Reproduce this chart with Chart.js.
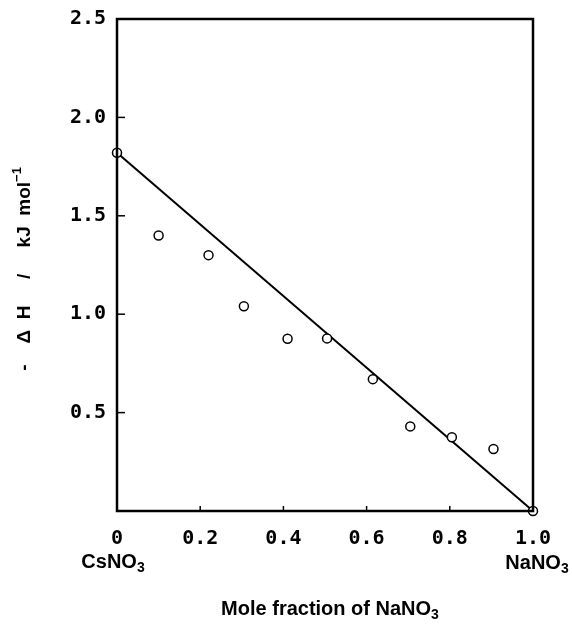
<!DOCTYPE html>
<html>
<head>
<meta charset="utf-8">
<script src="https://cdn.jsdelivr.net/npm/chart.js@4"></script>
<style>
  body { margin: 0; background: #fff; }
  canvas { display: block; }
</style>
</head>
<body>
<canvas id="chart" width="572" height="624"></canvas>
<script>
// mole fraction of NaNO3 and -dH (kJ/mol)
const xFrac = [0, 0.10, 0.22, 0.305, 0.41, 0.505, 0.615, 0.705, 0.805, 0.905, 1.0];
const dH = [1.82, 1.40, 1.30, 1.04, 0.875, 0.877, 0.67, 0.43, 0.375, 0.315, 0.0];
// straight additivity line
const lineX = [0, 1.0];
const lineY = [1.82, 0.0];
const xTicks = [0, 0.2, 0.4, 0.6, 0.8, 1.0];
const yTicks = [0.5, 1.0, 1.5, 2.0, 2.5];

const tickFont = { family: 'DejaVu Sans Mono', weight: 'bold', size: 20 };
const labelFont = '"Liberation Sans", Arial, sans-serif';

function textWithSub(ctx, main, sub, x, y, size) {
  // main text + subscript, centred on x
  ctx.font = `bold ${size}px ${labelFont}`;
  const w1 = ctx.measureText(main).width;
  ctx.font = `bold ${Math.round(size * 0.7)}px ${labelFont}`;
  const w2 = ctx.measureText(sub).width;
  const x0 = x - (w1 + w2) / 2;
  ctx.textAlign = 'left';
  ctx.textBaseline = 'middle';
  ctx.font = `bold ${size}px ${labelFont}`;
  ctx.fillText(main, x0, y);
  ctx.font = `bold ${Math.round(size * 0.7)}px ${labelFont}`;
  ctx.fillText(sub, x0 + w1, y + size * 0.3);
}

const framePlugin = {
  id: 'frame',
  afterDraw(chart) {
    const { ctx, chartArea: a, scales } = chart;
    ctx.save();
    ctx.strokeStyle = '#000';
    ctx.fillStyle = '#000';
    ctx.lineWidth = 2.5;
    ctx.strokeRect(a.left, a.top, a.right - a.left, a.bottom - a.top);

    // inward tick marks
    ctx.lineWidth = 1.5;
    yTicks.slice(0, -1).forEach(v => {
      const y = scales.y.getPixelForValue(v);
      ctx.beginPath();
      ctx.moveTo(a.left, y);
      ctx.lineTo(a.left + 8, y);
      ctx.stroke();
    });
    xTicks.slice(1, -1).forEach(v => {
      const x = scales.x.getPixelForValue(v);
      ctx.beginPath();
      ctx.moveTo(x, a.bottom);
      ctx.lineTo(x, a.bottom - 5);
      ctx.stroke();
    });

    // end labels and axis title
    textWithSub(ctx, 'CsNO', '3', 113, 562, 20);
    textWithSub(ctx, 'NaNO', '3', 537, 563, 20);
    textWithSub(ctx, 'Mole fraction of NaNO', '3', 330, 609, 20);

    // y title
    ctx.translate(25, 269);
    ctx.rotate(-Math.PI / 2);
    const main = '-    \u0394  H     /     kJ  mol';
    ctx.font = `bold 19px ${labelFont}`;
    const w1 = ctx.measureText(main).width;
    ctx.font = `bold 13px ${labelFont}`;
    const w2 = ctx.measureText('\u22121').width;
    const x0 = -(w1 + w2) / 2;
    ctx.textAlign = 'left';
    ctx.textBaseline = 'middle';
    ctx.font = `bold 19px ${labelFont}`;
    ctx.fillText(main, x0, 0);
    ctx.font = `bold 13px ${labelFont}`;
    ctx.fillText('\u22121', x0 + w1, -8);
    ctx.restore();
  }
};

new Chart(document.getElementById('chart'), {
  type: 'scatter',
  data: {
    datasets: [
      {
        data: xFrac.map((x, i) => ({ x: x, y: dH[i] })),
        pointRadius: 4.5,
        pointBorderWidth: 1.5,
        pointBackgroundColor: '#fff',
        pointBorderColor: '#000',
        showLine: false,
        clip: false,
        order: 1
      },
      {
        data: lineX.map((x, i) => ({ x: x, y: lineY[i] })),
        showLine: true,
        borderColor: '#000',
        borderWidth: 2,
        pointRadius: 0,
        clip: false,
        order: 2
      }
    ]
  },
  options: {
    responsive: false,
    animation: false,
    layout: { padding: { left: 0, top: 19, right: 39, bottom: 0 } },
    plugins: { legend: { display: false }, tooltip: { enabled: false } },
    scales: {
      x: {
        type: 'linear',
        min: 0,
        max: 1,
        afterBuildTicks: s => { s.ticks = xTicks.map(v => ({ value: v })); },
        afterFit: s => { s.height = 113; },
        grid: { display: false },
        border: { display: false },
        ticks: {
          color: '#000',
          font: tickFont,
          padding: 8,
          maxRotation: 0,
          callback: v => (v === 0 ? '0' : v.toFixed(1))
        }
      },
      y: {
        type: 'linear',
        min: 0,
        max: 2.5,
        afterBuildTicks: s => { s.ticks = yTicks.map(v => ({ value: v })); },
        afterFit: s => { s.width = 117; },
        grid: { display: false },
        border: { display: false },
        ticks: {
          color: '#000',
          font: tickFont,
          padding: 3,
          callback: v => v.toFixed(1)
        }
      }
    }
  },
  plugins: [framePlugin]
});
</script>
</body>
</html>
